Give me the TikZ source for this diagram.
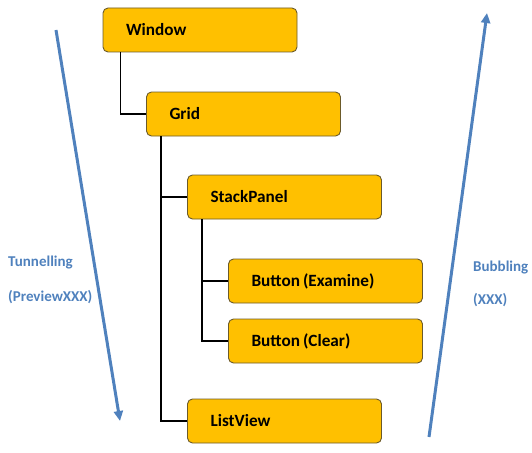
\documentclass[tikz,border=0pt]{standalone}
\usepackage{fontspec}
\setmainfont{Carlito}
\usetikzlibrary{arrows.meta}
\definecolor{boxgold}{HTML}{FFC000}
\definecolor{boxedge}{HTML}{6B5A2A}
\definecolor{flowblue}{HTML}{4F81BD}
\tikzset{
  elem/.style={draw=boxedge, fill=boxgold, line width=0.9pt, rounded corners=5pt,
    minimum height=44pt, text width=148pt, inner xsep=23pt, align=left,
    font=\fontsize{17.2}{19}\selectfont\bfseries},
  tree/.style={line width=1.4pt},
  flow/.style={draw=flowblue, line width=3pt, -{Triangle[width=9pt,length=10pt]}},
  flowtext/.style={text=flowblue, anchor=west, inner sep=0pt,
    font=\fontsize{15}{16}\selectfont\bfseries}
}
\begin{document}
\begin{tikzpicture}[x=1pt,y=-1pt]
            \useasboundingbox (0,0) rectangle (532,452);
            % Elemente
            \node[elem] (win)  at (200,30)    {Window};
            \node[elem] (grid) at (243.5,114) {Grid};
            \node[elem] (stack) at (284.5,197) {StackPanel};
            \node[elem] (exam) at (325.5,281) {Button\hspace{0.18em}(Examine)};
            \node[elem] (clear) at (325.5,341) {Button\hspace{0.18em}(Clear)};
            \node[elem] (list) at (284.5,421) {ListView};
            % Baum
            \draw[tree] ([xshift=18pt]win.south west) |- (grid.west);
            \draw[tree] ([xshift=15pt]grid.south west) |- (stack.west);
            \draw[tree] ([xshift=15pt]grid.south west) |- (list.west);
            \draw[tree] ([xshift=15pt]stack.south west) |- (exam.west);
            \draw[tree] ([xshift=15pt]stack.south west) |- (clear.west);
            % Tunnelling
            \coordinate (tunTop) at (56,30);
            \coordinate (tunEnd) at (120,421);
            \draw[flow] (tunTop) -- (tunEnd);
            \node[flowtext] (tun) at (8,263) {Tunnelling};
            \node[flowtext] (tunev) at (8,297) {(PreviewXXX)};
            % Bubbling
            \coordinate (bubStart) at (429,437);
            \coordinate (bubTop) at (487,13);
            \draw[flow] (bubStart) -- (bubTop);
            \node[flowtext] (bub) at (473,268) {Bubbling};
            \node[flowtext] (bubev) at (473,300) {(XXX)};
\end{tikzpicture}
\end{document}
